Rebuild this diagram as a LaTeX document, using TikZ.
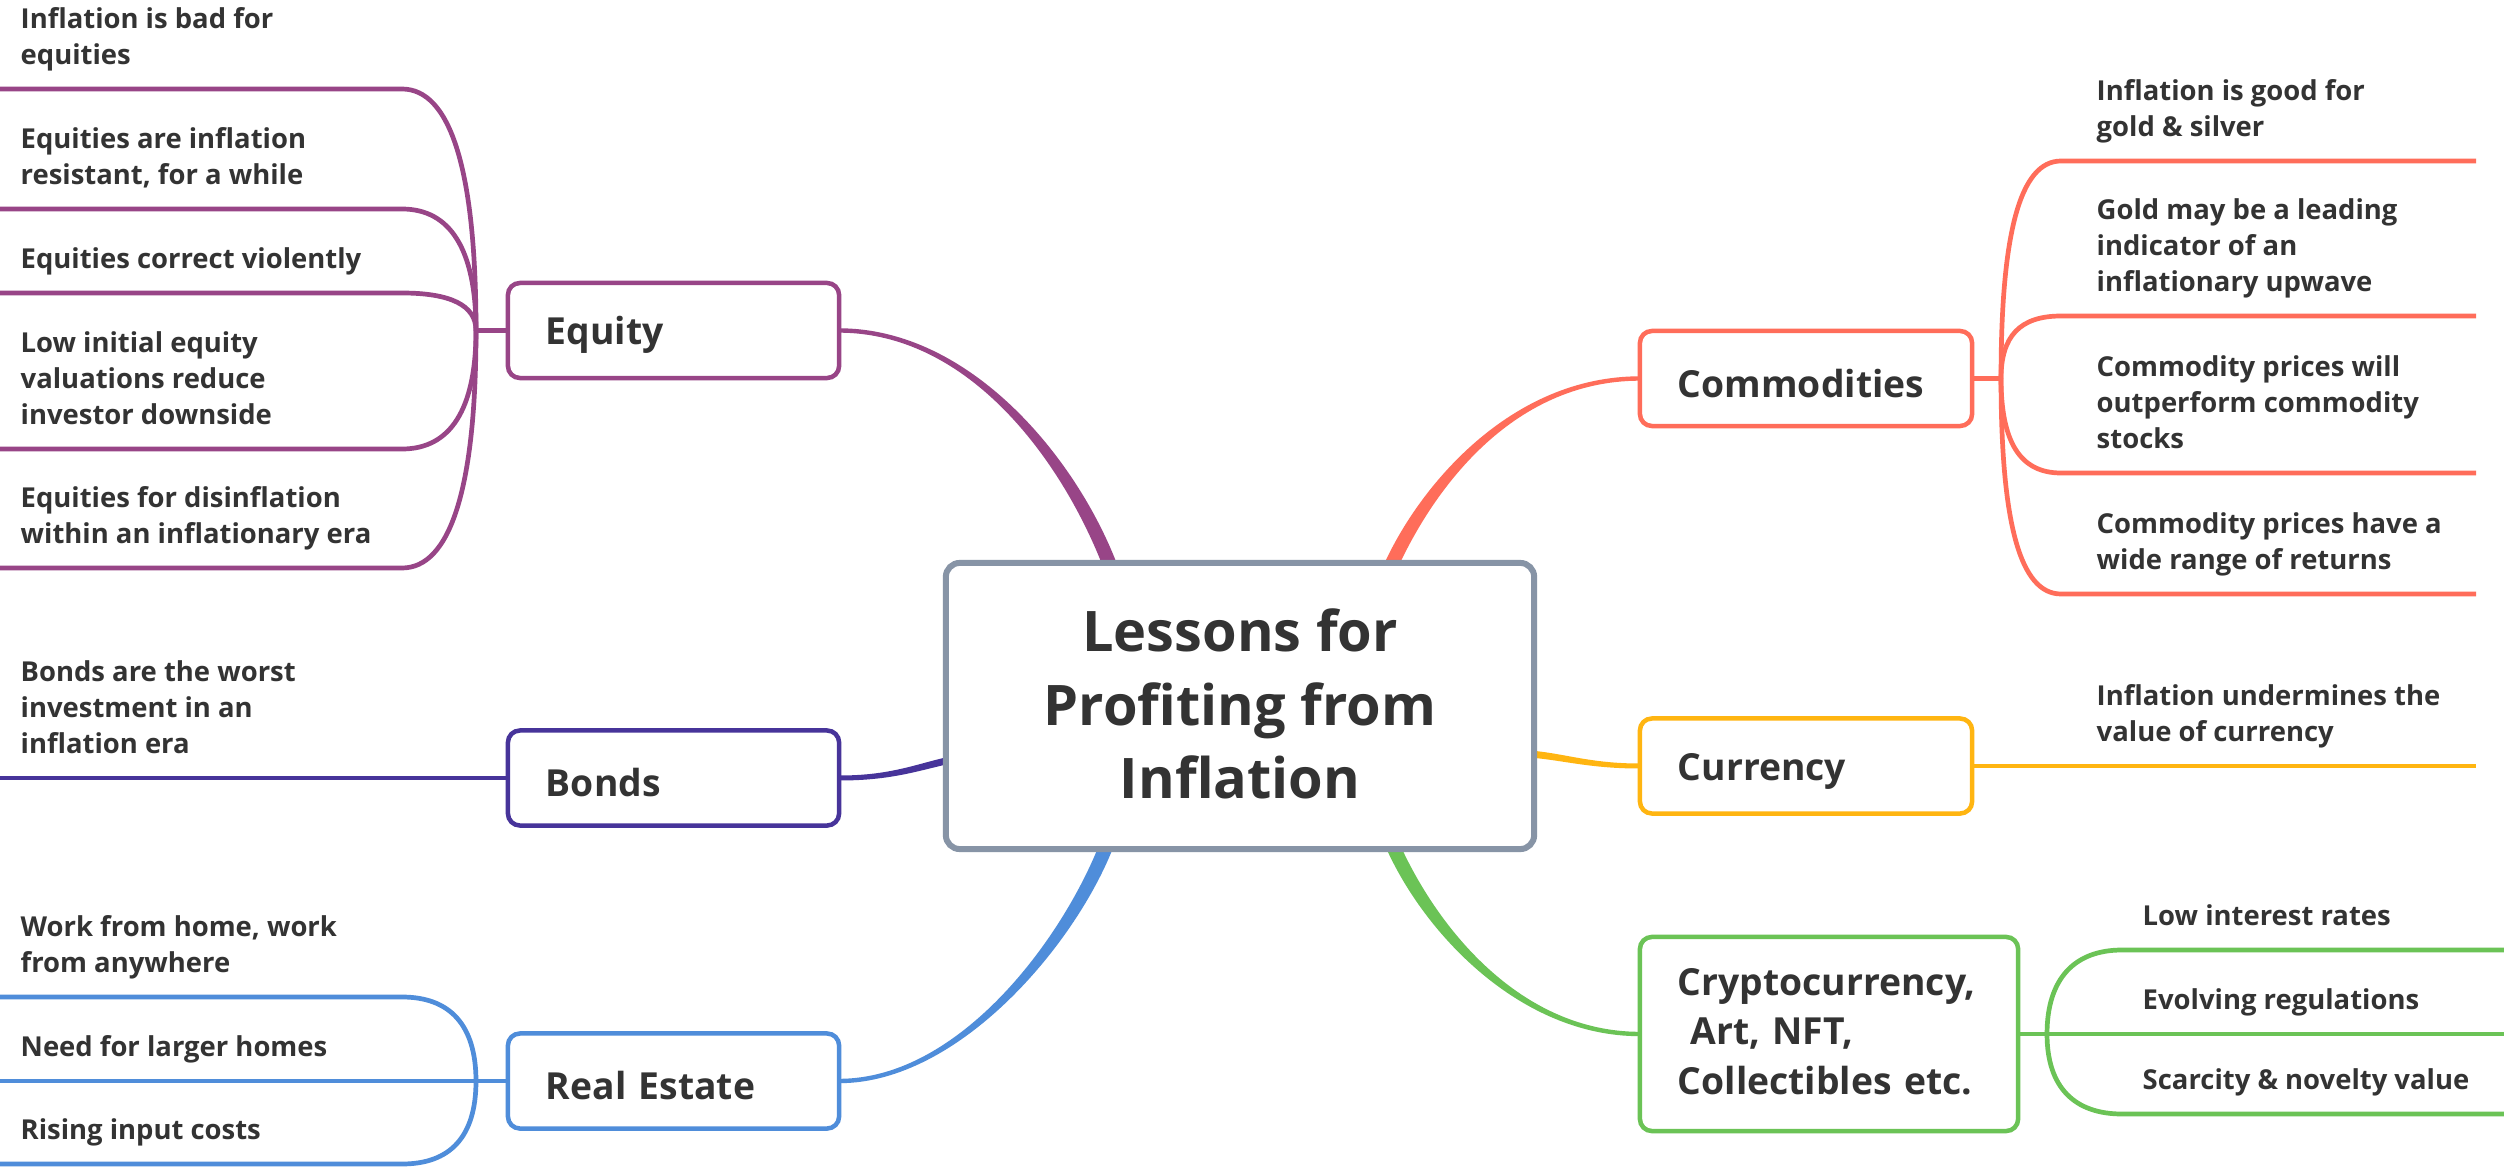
\documentclass[tikz,border=0pt]{standalone}
\usepackage{fontspec}
\setmainfont{Open Sans}
\usetikzlibrary{calc}
\definecolor{txt}{HTML}{333333}
\definecolor{ceq}{HTML}{984587}
\definecolor{cbo}{HTML}{47349A}
\definecolor{cre}{HTML}{4F8DDA}
\definecolor{cco}{HTML}{FF6D5A}
\definecolor{ccu}{HTML}{FFB511}
\definecolor{ccr}{HTML}{6BC356}
\definecolor{cce}{HTML}{8794A6}
\newcommand\mysubfont{\fontsize{7.8pt}{10.24pt}\selectfont\bfseries}
\newcommand\mytopfont{\fontsize{10.6pt}{14.2pt}\selectfont\bfseries}
\newcommand\mycenfont{\fontsize{15.9pt}{20.9pt}\selectfont\bfseries}
\newcommand\tallstrut[1]{\rule{0pt}{\dimexpr0.7\baselineskip+#1\relax}}
% tapered branch: #1 P0, #2 C1, #3 C2, #4 P3, #5 half width at P0, #6 half width at P3, #7 colour
\newcommand\taperbranch[7]{%
  \fill[#7] ($#1!#5!90:#2$) .. controls ($#2!#5!-90:#1$) and ($#3!#6!90:#4$) .. ($#4!#6!-90:#3$)
    -- ($#4!#6!90:#3$) .. controls ($#3!#6!-90:#4$) and ($#2!#5!90:#1$) .. ($#1!#5!-90:#2$) -- cycle;}
\pgfdeclarelayer{bg}
\pgfsetlayers{bg,main}
\begin{document}
\begin{tikzpicture}[x=0.01cm,y=-0.01cm,
  box/.style={draw, line width=0.045cm, rounded corners=0.12cm, fill=white, outer sep=0pt,
    inner xsep=0.38cm, inner ysep=0pt, align=left, font=\mytopfont, text=txt},
  sub/.style={anchor=south west, inner sep=0pt, align=left, font=\mysubfont, text=txt},
  twig/.style={line width=0.047cm}]
\useasboundingbox (0,0) rectangle (2504,1167);

% ---- boxes ----
\node[box, draw=cce, line width=0.06cm, rounded corners=0.14cm, minimum width=5.88cm,
  minimum height=2.86cm, align=center, font=\mycenfont, inner sep=0pt] (center) at (1240,706)
  {\tallstrut{0.09cm}Lessons for\\\strut Profiting from\\\strut Inflation};
\node[box, draw=ceq, text width=2.55cm, minimum height=0.95cm] (equity) at (673.5,330.5) {\tallstrut{0.025cm}Equity};
\node[box, draw=cbo, text width=2.55cm, minimum height=0.95cm] (bonds) at (673.5,778) {\tallstrut{0.025cm}Bonds};
\node[box, draw=cre, text width=2.55cm, minimum height=0.95cm] (realestate) at (673.5,1081) {\tallstrut{0.025cm}Real Estate};
\node[box, draw=cco, text width=2.56cm, minimum height=0.95cm] (commod) at (1806,378.5) {\tallstrut{0.025cm}Commodities};
\node[box, draw=ccu, text width=2.56cm, minimum height=0.95cm] (currency) at (1806,766) {\tallstrut{0.025cm}Currency};
\node[box, draw=ccr, text width=3.02cm, minimum height=1.94cm] (crypto) at (1829,1034)
  {\tallstrut{0.02cm}Cryptocurrency,\\\strut\ Art, NFT,\\\strut Collectibles etc.};

% ---- junctions and branch ends ----
\coordinate (eqj) at (476,330.5);
\coordinate (rej) at (476,1081);
\coordinate (coj) at (2001,378.5);
\coordinate (crj) at (2047,1034);
\coordinate (ceq) at (1111,568);
\coordinate (cco) at (1390,568);
\coordinate (cbo) at (950,760);
\coordinate (ccu) at (1530,754);
\coordinate (cre) at (1107,844);
\coordinate (ccr) at (1392,844);

% ---- sub-topic texts ----
\node[sub] (s1) at (20,75.8) {\strut Inflation is bad for\\\strut equities};
\node[sub] (s2) at (20,195.8) {\strut Equities are inflation\\\strut resistant, for a while};
\node[sub] (s3) at (20,279.8) {\strut Equities correct violently};
\node[sub] (s4) at (20,435.8) {\strut Low initial equity\\\strut valuations reduce\\\strut investor downside};
\node[sub] (s5) at (20,554.8) {\strut Equities for disinflation\\\strut within an inflationary era};
\node[sub] (s6) at (20,764.8) {\strut Bonds are the worst\\\strut investment in an\\\strut inflation era};
\node[sub] (s7) at (20,983.8) {\strut Work from home, work\\\strut from anywhere};
\node[sub] (s8) at (20,1067.8) {\strut Need for larger homes};
\node[sub] (s9) at (20,1150.8) {\strut Rising input costs};
\node[sub] (s10) at (2096,147.8) {\strut Inflation is good for\\\strut gold \& silver};
\node[sub] (s11) at (2096,302.8) {\strut Gold may be a leading\\\strut indicator of an\\\strut inflationary upwave};
\node[sub] (s12) at (2096,459.8) {\strut Commodity prices will\\\strut outperform commodity\\\strut stocks};
\node[sub] (s13) at (2096,580.8) {\strut Commodity prices have a\\\strut wide range of returns};
\node[sub] (s14) at (2096,752.8) {\strut Inflation undermines the\\\strut value of currency};
\node[sub] (s15) at (2142,936.8) {\strut Low interest rates};
\node[sub] (s16) at (2142,1020.8) {\strut Evolving regulations};
\node[sub] (s17) at (2142,1100.8) {\strut Scarcity \& novelty value};

\begin{pgfonlayer}{bg}
\fill[white] (0,0) rectangle (2504,1167);
% main branches (tapered)
\taperbranch{(equity.east)}{(970,330.5)}{(1070,460)}{(ceq)}{0.022cm}{0.07cm}{ceq}
\taperbranch{(commod.west)}{(1510,378.5)}{(1425,490)}{(cco)}{0.022cm}{0.07cm}{cco}
\taperbranch{(bonds.east)}{(890,778)}{(915,768)}{(cbo)}{0.025cm}{0.035cm}{cbo}
\taperbranch{(currency.west)}{(1590,766)}{(1565,757)}{(ccu)}{0.025cm}{0.035cm}{ccu}
\taperbranch{(realestate.east)}{(960,1081)}{(1070,940)}{(cre)}{0.022cm}{0.07cm}{cre}
\taperbranch{(crypto.west)}{(1520,1034)}{(1430,930)}{(ccr)}{0.022cm}{0.07cm}{ccr}

% equity twigs
\draw[twig, ceq] (equity.west) -- (eqj);
\draw[twig, ceq] (0,89) -- (402,89) .. controls (450,89) and (476,168.5) .. (eqj);
\draw[twig, ceq] (0,209) -- (402,209) .. controls (450,209) and (476,249) .. (eqj);
\draw[twig, ceq] (0,293) -- (402,293) .. controls (450,293) and (476,305) .. (eqj);
\draw[twig, ceq] (0,449) -- (402,449) .. controls (450,449) and (476,410) .. (eqj);
\draw[twig, ceq] (0,568) -- (402,568) .. controls (450,568) and (476,489) .. (eqj);
% bonds twig
\draw[twig, cbo] (bonds.west) -- (0,778);
% real estate twigs
\draw[twig, cre] (realestate.west) -- (rej) -- (0,1081);
\draw[twig, cre] (0,997) -- (402,997) .. controls (450,997) and (476,1025) .. (rej);
\draw[twig, cre] (0,1164) -- (402,1164) .. controls (450,1164) and (476,1137) .. (rej);
% commodities twigs
\draw[twig, cco] (commod.east) -- (coj);
\draw[twig, cco] (2476,161) -- (2061,161) .. controls (2020,161) and (2001,233) .. (coj);
\draw[twig, cco] (2476,316) -- (2061,316) .. controls (2020,316) and (2001,336) .. (coj);
\draw[twig, cco] (2476,473) -- (2061,473) .. controls (2020,473) and (2001,442) .. (coj);
\draw[twig, cco] (2476,594) -- (2061,594) .. controls (2020,594) and (2001,523) .. (coj);
% currency twig
\draw[twig, ccu] (currency.east) -- (2476,766);
% crypto twigs
\draw[twig, ccr] (crypto.east) -- (crj) -- (2504,1034);
\draw[twig, ccr] (2504,950) -- (2122,950) .. controls (2075,950) and (2047,978) .. (crj);
\draw[twig, ccr] (2504,1114) -- (2122,1114) .. controls (2075,1114) and (2047,1088) .. (crj);
\end{pgfonlayer}
\end{tikzpicture}
\end{document}
